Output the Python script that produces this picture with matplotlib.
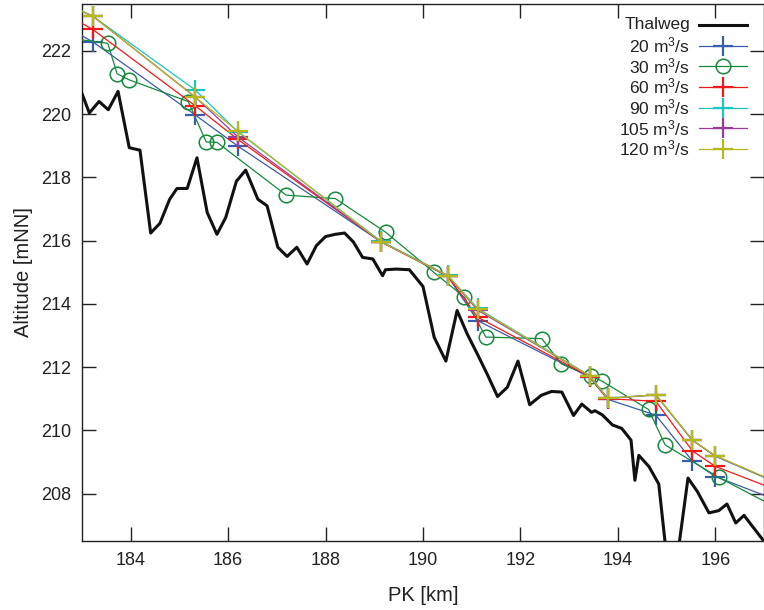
import matplotlib
matplotlib.use("Agg")
import matplotlib.pyplot as plt
from matplotlib.lines import Line2D

plt.rcParams['font.family'] = ['Liberation Sans', 'DejaVu Sans']
plt.rcParams['mathtext.default'] = 'regular'

# Thalweg (river bed)
thal_pk = [183.00, 183.15, 183.35, 183.54, 183.74, 183.97, 184.19, 184.41, 184.60, 184.80,
           184.95, 185.16, 185.36, 185.57, 185.77, 185.95, 186.17, 186.36, 186.61, 186.80,
           187.02, 187.21, 187.41, 187.62, 187.81, 188.00, 188.20, 188.39, 188.57, 188.76,
           188.97, 189.17, 189.23, 189.45, 189.72, 190.00, 190.23, 190.47, 190.70, 190.91,
           191.12, 191.32, 191.53, 191.73, 191.95, 192.19, 192.43, 192.64, 192.85, 193.09,
           193.26, 193.46, 193.53, 193.68, 193.89, 194.08, 194.27, 194.35, 194.43, 194.64,
           194.84, 195.10, 195.44, 195.63, 195.87, 196.07, 196.24, 196.42, 196.59, 197.00]
thal_alt = [220.65, 220.04, 220.40, 220.14, 220.72, 218.94, 218.86, 216.24, 216.55, 217.31,
            217.65, 217.65, 218.62, 216.89, 216.20, 216.73, 217.88, 218.23, 217.31, 217.10,
            215.79, 215.50, 215.79, 215.26, 215.84, 216.13, 216.20, 216.24, 215.96, 215.47,
            215.42, 214.89, 215.08, 215.10, 215.08, 214.55, 212.94, 212.19, 213.79, 213.04,
            212.40, 211.77, 211.07, 211.36, 212.19, 210.81, 211.11, 211.23, 211.21, 210.47,
            210.83, 210.57, 210.62, 210.49, 210.17, 210.06, 209.69, 208.42, 209.21, 208.85,
            208.30, 204.60, 208.49, 208.07, 207.39, 207.46, 207.67, 207.07, 207.31, 206.49]

# Water surface profiles (crosses); first/last points lie just outside the view
pk_q = [182.5, 183.22, 185.32, 186.20, 189.14, 190.51, 191.12, 193.42, 193.79, 194.78, 195.53, 196.00, 197.5]
q20 = [222.90, 222.29, 219.98, 218.99, 215.96, 214.87, 213.47, 211.68, 210.98, 210.48, 209.03, 208.54, 207.65]
q60 = [223.30, 222.68, 220.27, 219.20, 215.96, 214.88, 213.58, 211.70, 211.00, 210.92, 209.35, 208.86, 207.97]
q90 = [223.62, 223.10, 220.77, 219.44, 215.98, 214.90, 213.86, 211.73, 211.02, 211.12, 209.70, 209.18, 208.18]
q105 = [223.60, 223.10, 220.55, 219.28, 215.96, 214.89, 213.80, 211.72, 211.01, 211.12, 209.68, 209.19, 208.19]
q120 = [223.60, 223.10, 220.54, 219.46, 215.96, 214.89, 213.84, 211.72, 211.01, 211.13, 209.69, 209.20, 208.20]

# 30 m3/s profile (circles)
pk_30 = [182.5, 183.53, 183.72, 183.96, 185.18, 185.55, 185.77, 187.19, 188.20, 189.24, 190.22,
         190.85, 191.29, 192.44, 192.84, 193.45, 193.67, 194.63, 194.97, 196.07, 197.5]
q30 = [222.45, 222.24, 221.28, 221.09, 220.40, 219.12, 219.11, 217.44, 217.33, 216.26, 215.00,
       214.21, 212.95, 212.90, 212.10, 211.72, 211.56, 210.66, 209.54, 208.51, 207.36]

labels = ['Thalweg', '20 m$^3$/s', '30 m$^3$/s', '60 m$^3$/s', '90 m$^3$/s', '105 m$^3$/s', '120 m$^3$/s']
colors = ['#111111', '#3a5cad', '#148a3c', '#f01a1a', '#1ec3c3', '#9a3d9a', '#b7b81e']

fig = plt.figure(figsize=(7.64, 6.10), dpi=100)
ax = fig.add_axes([82 / 764, 69 / 610, 682 / 764, 537.5 / 610])

ax.plot(thal_pk, thal_alt, color=colors[0], lw=2.2, zorder=3)
cross_kw = dict(marker='+', markersize=14, markeredgewidth=1.6, lw=0.9)
ax.plot(pk_q, q20, color=colors[1], **cross_kw, zorder=4)
ax.plot(pk_30, q30, color=colors[2], marker='o', markersize=10.5, markerfacecolor='none',
        markeredgewidth=1.1, lw=0.9, zorder=4)
ax.plot(pk_q, q60, color=colors[3], **cross_kw, zorder=4)
ax.plot(pk_q, q90, color=colors[4], **cross_kw, zorder=4)
ax.plot(pk_q, q105, color=colors[5], **cross_kw, zorder=4)
ax.plot(pk_q, q120, color=colors[6], **cross_kw, zorder=4)

ax.set_xlim(183, 197)
ax.set_ylim(206.5, 223.5)
ax.set_xticks([184, 186, 188, 190, 192, 194, 196])
ax.set_yticks([208, 210, 212, 214, 216, 218, 220, 222])
ax.tick_params(direction='in', length=10, width=1, top=True, right=True,
               labelsize=13, pad=8, colors='#222222')
for s in ax.spines.values():
    s.set_linewidth(1.0)
    s.set_color('#222222')
ax.set_xlabel('PK [km]', fontsize=14.5, labelpad=12, color='#222222')
ax.set_ylabel('Altitude [mNN]', fontsize=14.5, labelpad=5.5, color='#222222')

# gnuplot-style legend: right-aligned text, then sample
row_y = [24.3, 45, 65.7, 86.3, 107, 127.6, 148.2]
styles = [dict(marker=None, lw=2.2),
          dict(marker='+', markersize=14, markeredgewidth=1.6, lw=0.9),
          dict(marker='o', markersize=10.5, markerfacecolor='none', markeredgewidth=1.1, lw=0.9),
          dict(marker='+', markersize=14, markeredgewidth=1.6, lw=0.9),
          dict(marker='+', markersize=14, markeredgewidth=1.6, lw=0.9),
          dict(marker='+', markersize=14, markeredgewidth=1.6, lw=0.9),
          dict(marker='+', markersize=14, markeredgewidth=1.6, lw=0.9)]
for lab, col, yy, st in zip(labels, colors, row_y, styles):
    fy = 1 - (yy - 3) / 537.5
    ax.text((690 - 82) / 682, fy, lab, transform=ax.transAxes, ha='right', va='center',
            fontsize=12.5, color='#222222')
    ax.add_line(Line2D([(699 - 82) / 682, (747 - 82) / 682], [fy, fy], transform=ax.transAxes,
                       color=col, lw=st['lw'], zorder=6))
    if st['marker']:
        ax.add_line(Line2D([(723 - 82) / 682], [fy], transform=ax.transAxes, color=col, lw=0,
                           marker=st['marker'], markersize=st['markersize'],
                           markeredgewidth=st['markeredgewidth'],
                           markerfacecolor=st.get('markerfacecolor', col), zorder=6))

fig.savefig('out.png', dpi=100)
